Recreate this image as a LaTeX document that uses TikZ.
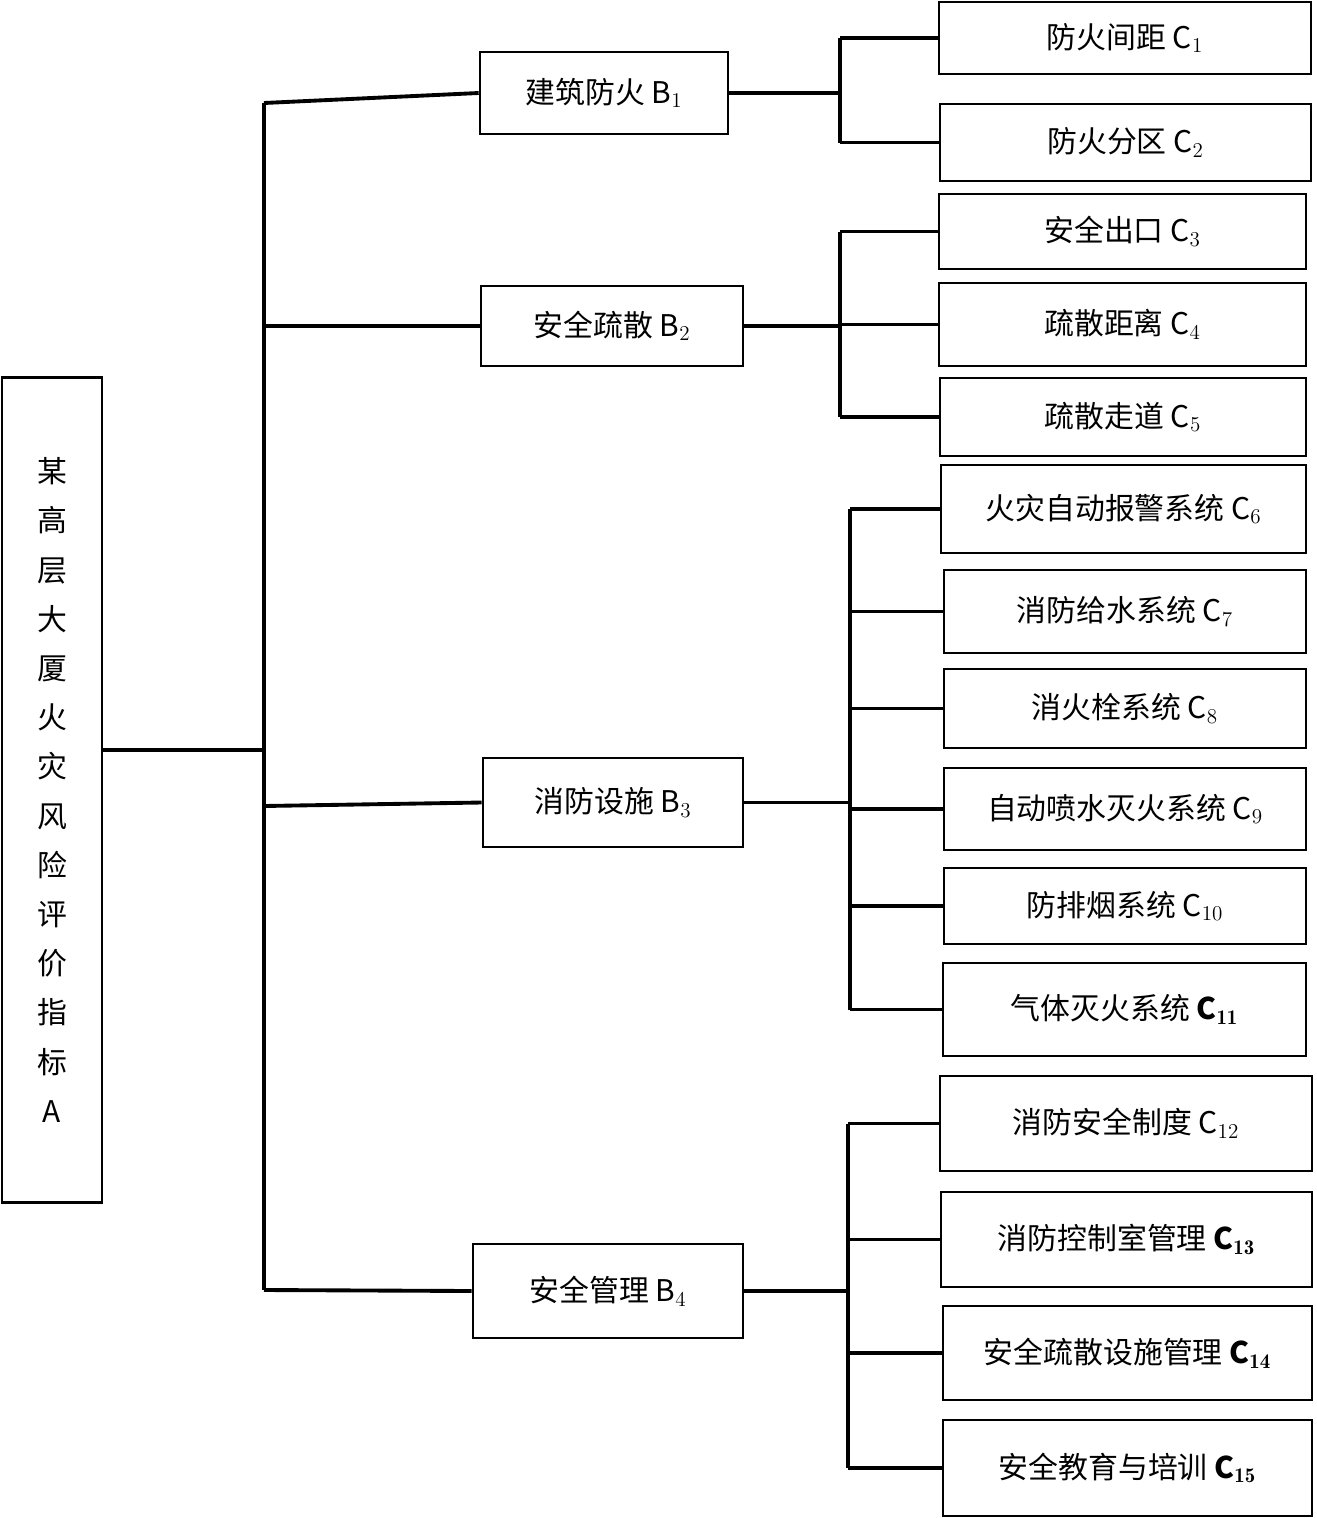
\documentclass[tikz,border=0pt]{standalone}
\usepackage{fontspec}
\newfontfamily\cjk{Noto Sans CJK SC}
\newcommand{\pbox}[6]{%
  \node[box, minimum width={(#4-#2)*0.02cm}, minimum height={(#5-#3)*0.02cm}]
    (#1) at ({(#2+#4)/2},{(#3+#5)/2}) {#6};}
\begin{document}
\begin{tikzpicture}[
        x=0.02cm, y=-0.02cm,
        box/.style={rectangle, draw, line width=1.5pt, inner sep=0pt,
                    font=\cjk\fontsize{17}{20}\selectfont},
        wire/.style={draw, line width=2.2pt}
    ]
    \useasboundingbox (0,0) rectangle (1316,1518);

    % root
    \node[box, minimum width=2cm, minimum height=16.5cm, align=center,
          font=\cjk\fontsize{17}{28}\selectfont] (A) at (52,790)
          {某\\高\\层\\大\\厦\\火\\灾\\风\\险\\评\\价\\指\\标\\A};

    % level B
    \pbox{b1}{480}{52}{728}{134}{建筑防火 B$_1$}
    \pbox{b2}{481}{286}{743}{366}{安全疏散 B$_2$}
    \pbox{b3}{483}{758}{743}{847}{消防设施 B$_3$}
    \pbox{b4}{473}{1244}{743}{1338}{安全管理 B$_4$}

    % level C
    \pbox{c1}{939}{2}{1311}{74}{防火间距 C$_1$}
    \pbox{c2}{940}{104}{1311}{181}{防火分区 C$_2$}
    \pbox{c3}{939}{194}{1306}{269}{安全出口 C$_3$}
    \pbox{c4}{939}{283}{1306}{366}{疏散距离 C$_4$}
    \pbox{c5}{940}{378}{1306}{456}{疏散走道 C$_5$}
    \pbox{c6}{941}{465}{1306}{553}{火灾自动报警系统 C$_6$}
    \pbox{c7}{944}{570}{1306}{653}{消防给水系统 C$_7$}
    \pbox{c8}{944}{669}{1306}{748}{消火栓系统 C$_8$}
    \pbox{c9}{944}{768}{1306}{850}{自动喷水灭火系统 C$_9$}
    \pbox{c10}{944}{868}{1306}{944}{防排烟系统 C$_{10}$}
    \pbox{c11}{943}{963}{1306}{1056}{气体灭火系统 \textbf{C$_{\mathbf{11}}$}}
    \pbox{c12}{940}{1076}{1312}{1171}{消防安全制度 C$_{12}$}
    \pbox{c13}{941}{1192}{1312}{1287}{消防控制室管理 \textbf{C$_{\mathbf{13}}$}}
    \pbox{c14}{943}{1306}{1312}{1400}{安全疏散设施管理 \textbf{C$_{\mathbf{14}}$}}
    \pbox{c15}{943}{1420}{1312}{1516}{安全教育与培训 \textbf{C$_{\mathbf{15}}$}}

    % trunk
    \coordinate (t1) at (264,103);
    \coordinate (t4) at (264,1290);
    \path[wire] (t1) -- (t4);
    \path[wire] (A.east |- 0,750) -- (264,750);
    \path[wire] (t1) -- (b1.west);
    \path[wire] (264,326) -- (b2.west);
    \path[wire] (264,806) -- (b3.west);
    \path[wire] (264,1290) -- (b4.west);

    % buses
    \foreach \b/\x/\first/\last/\kids in {
        b1/840/c1/c2/{c1,c2},
        b2/840/c3/c5/{c3,c4,c5},
        b3/850/c6/c11/{c6,c7,c8,c9,c10,c11},
        b4/848/c12/c15/{c12,c13,c14,c15}} {
      \path[wire] (\x,0 |- \first.west) -- (\x,0 |- \last.west);
      \path[wire] (\b.east) -- (\x,0 |- \b.east);
      \foreach \k in \kids
        \path[wire] (\x,0 |- \k.west) -- (\k.west);
    }
\end{tikzpicture}
\end{document}
